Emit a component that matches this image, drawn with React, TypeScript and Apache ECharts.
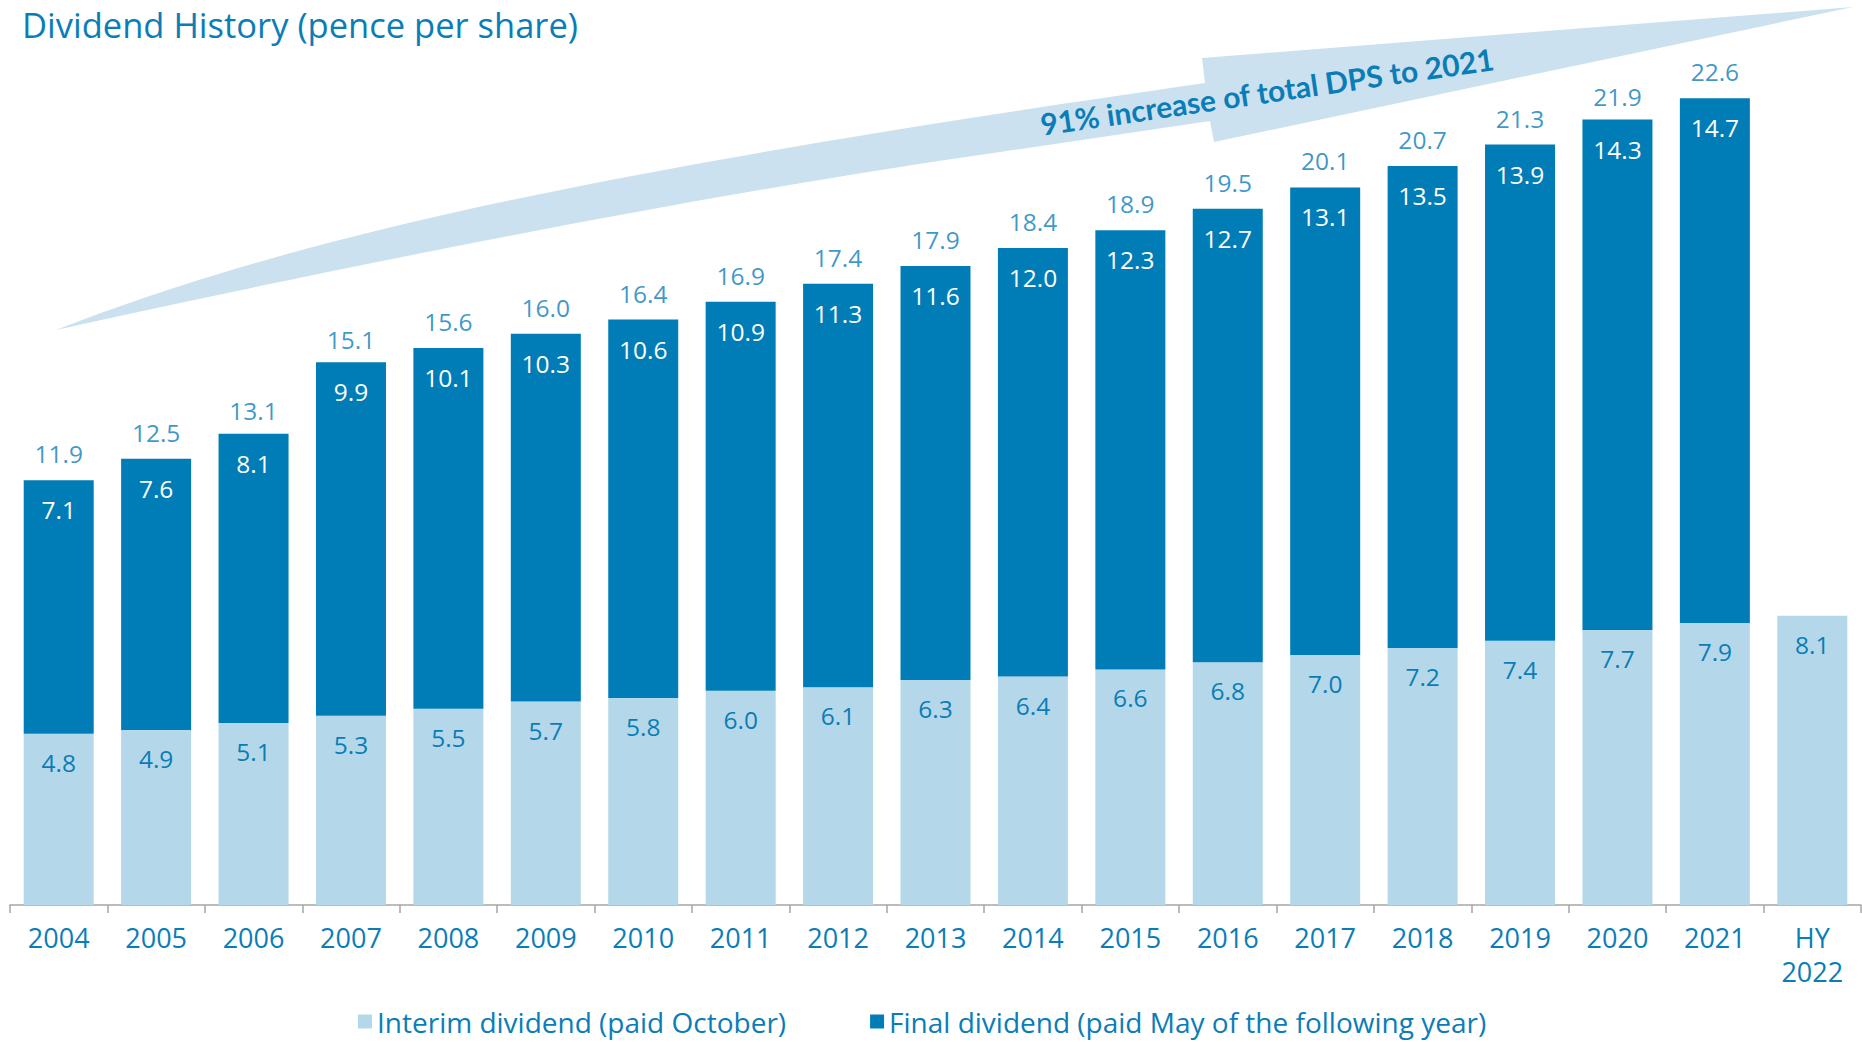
import React, { useEffect, useRef } from "react";
import * as echarts from "echarts";

const categories = ["2004", "2005", "2006", "2007", "2008", "2009", "2010", "2011", "2012", "2013", "2014", "2015", "2016", "2017", "2018", "2019", "2020", "2021", "HY\n2022"];
const interimValues = [4.8, 4.9, 5.1, 5.3, 5.5, 5.7, 5.8, 6.0, 6.1, 6.3, 6.4, 6.6, 6.8, 7.0, 7.2, 7.4, 7.7, 7.9, 8.1];
const finalValues = [7.1, 7.6, 8.1, 9.9, 10.1, 10.3, 10.6, 10.9, 11.3, 11.6, 12.0, 12.3, 12.7, 13.1, 13.5, 13.9, 14.3, 14.7, null];
const totalValues = [11.9, 12.5, 13.1, 15.1, 15.6, 16.0, 16.4, 16.9, 17.4, 17.9, 18.4, 18.9, 19.5, 20.1, 20.7, 21.3, 21.9, 22.6, null];

const titleText = "Dividend History (pence per share)";
const arrowText = "91% increase of total DPS to 2021";
const interimName = "Interim dividend (paid October)";
const finalName = "Final dividend (paid May of the following year)";

const DARK = "#007DB6";
const LIGHT = "#B4D8E9";
const TEXT = "#0A7DB7";
const FONT = "Lato";
const WIDE = "Open Sans";

const arrowPath =
  "M 56 330 C 300 235 600 170 1205 83 L 1202 58 L 1853 7 L 1214 142 L 1210 121 L 1000 152 C 700 195 350 265 56 330 Z";

let registered = false;

export default function App() {
  const ref = useRef<HTMLDivElement>(null);
  useEffect(() => {
    document.body.style.margin = "0";
    if (!registered) {
      echarts.graphic.registerShape("dpsArrow", echarts.graphic.extendPath(arrowPath, {}) as any);
      registered = true;
    }
    const chart = echarts.init(ref.current!, null, { renderer: "svg" });
    const fmt = (p: any) => {
      const v = Array.isArray(p.value) ? p.value[1] : p.value;
      return v == null ? "" : Number(v).toFixed(1);
    };
    chart.setOption({
      animation: false,
      title: {
        text: titleText,
        left: 22,
        top: 7,
        padding: 0,
        textStyle: { fontFamily: WIDE, fontSize: 34.5, fontWeight: "normal", color: TEXT },
      },
      legend: {
        data: [interimName, finalName],
        left: 358,
        top: 1007,
        padding: 0,
        itemWidth: 14,
        itemHeight: 14,
        itemGap: 84,
        icon: "rect",
        textStyle: { fontFamily: WIDE, fontSize: 28, lineHeight: 29, color: TEXT },
      },
      grid: { left: 10, right: 1, top: 12.5, bottom: 137, containLabel: false },
      xAxis: {
        type: "category",
        data: categories,
        axisLine: { lineStyle: { color: "#A6A6A6", width: 1.5 } },
        axisTick: { show: true, length: 8, lineStyle: { color: "#A6A6A6", width: 1.5 } },
        axisLabel: {
          color: TEXT,
          fontFamily: WIDE,
          fontSize: 27,
          lineHeight: 34,
          margin: 15,
          interval: 0,
        },
      },
      yAxis: { type: "value", min: 0, max: 25, show: false, splitLine: { show: false } },
      graphic: [
        { type: "dpsArrow", x: 0, y: 0, z: 0, style: { fill: "#CCE1F0" } },
        {
          type: "text",
          x: 1267,
          y: 91,
          z: 1,
          rotation: (8.3 * Math.PI) / 180,
          style: {
            text: arrowText,
            fill: TEXT,
            fontFamily: FONT,
            fontSize: 30,
            fontWeight: "bold",
            align: "center",
            verticalAlign: "middle",
          },
        },
      ],
      series: [
        {
          name: interimName,
          type: "bar",
          stack: "dps",
          barWidth: 70,
          data: interimValues,
          itemStyle: { color: LIGHT },
          label: {
            show: true,
            position: "insideTop",
            distance: 16,
            formatter: fmt,
            color: TEXT,
            fontFamily: WIDE,
            fontSize: 24.5,
          },
          z: 3,
        },
        {
          name: finalName,
          type: "bar",
          stack: "dps",
          barWidth: 70,
          data: finalValues,
          itemStyle: { color: DARK },
          label: {
            show: true,
            position: "insideTop",
            distance: 17,
            formatter: fmt,
            color: "#ffffff",
            fontFamily: WIDE,
            fontSize: 24.5,
          },
          z: 3,
        },
        {
          name: "Total",
          type: "scatter",
          data: totalValues,
          symbolSize: 0,
          itemStyle: { color: "transparent" },
          label: {
            show: true,
            position: "top",
            distance: 14,
            formatter: fmt,
            color: TEXT,
            fontFamily: WIDE,
            fontSize: 24.5,
          },
          z: 4,
        },
      ],
    });
    return () => chart.dispose();
  }, []);
  return <div ref={ref} style={{ width: 1862, height: 1042 }} />;
}
